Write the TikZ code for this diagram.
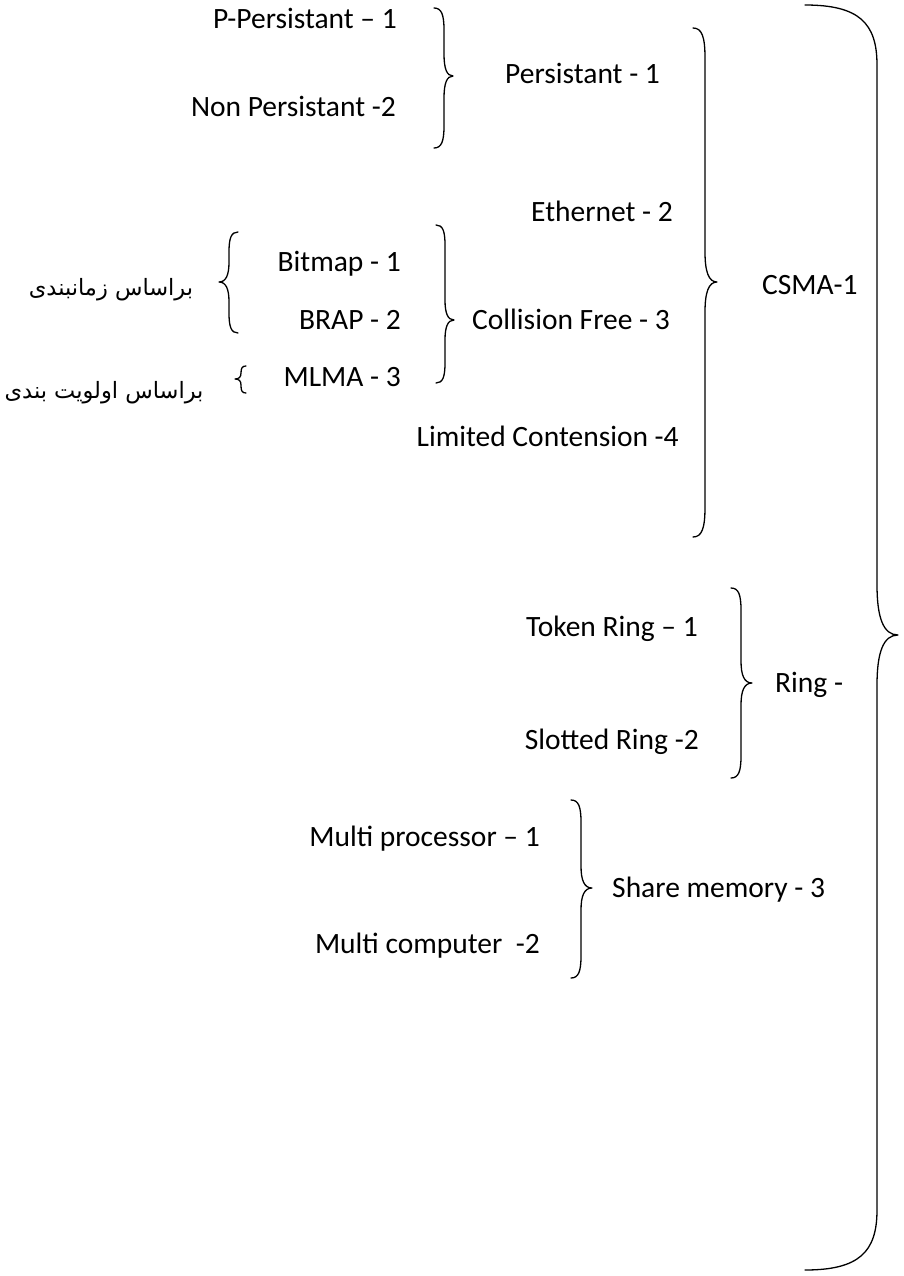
\documentclass[tikz,border=0pt]{standalone}
\usepackage{fontspec}
\setmainfont{Carlito}
\newfontfamily\arabicfont[Script=Arabic]{DejaVu Sans}
\TeXXeTstate=1
% #1 x of ends, #2 x of straight part, #3 x of tip, #4 top y, #5 tip y, #6 bottom y, #7 end curl length, #8 tip curl length
\newcommand{\mybrace}[8]{%
  \draw[bracestyle] (#1,#4) .. controls ({#1+0.75*(#2-#1)},#4) and (#2,{#4+0.3*(#7)}) .. (#2,{#4+(#7)})
    -- (#2,{#5-(#8)}) .. controls (#2,{#5-0.35*(#8)}) and ({#2+0.3*(#3-#2)},#5) .. (#3,#5)
    .. controls ({#2+0.3*(#3-#2)},#5) and (#2,{#5+0.35*(#8)}) .. (#2,{#5+(#8)})
    -- (#2,{#6-(#7)}) .. controls (#2,{#6-0.3*(#7)}) and ({#1+0.75*(#2-#1)},#6) .. (#1,#6);}
\begin{document}
\begin{tikzpicture}[x=1pt,y=-1pt,
  lbl/.style={anchor=base east, inner sep=0pt, font=\fontsize{29.5}{36}\selectfont},
  lblw/.style={anchor=base west, inner sep=0pt, font=\fontsize{29.5}{36}\selectfont},
  fa/.style={anchor=base, inner sep=0pt, font=\arabicfont\fontsize{22.5}{27}\selectfont},
  bracestyle/.style={line width=1.3pt, line join=round, line cap=round}]
\useasboundingbox (0,0) rectangle (904,1276);
% group: Persistant
\node[lbl] (pp) at (397,29) {P-Persistant – 1};
\node[lbl] (np) at (396,117) {Non Persistant -2};
\mybrace{434}{444}{453}{8}{76}{148}{22}{22}
\node[lblw] (pers) at (505,84) {Persistant - 1};
% CSMA group
\node[lbl] (eth) at (673,222) {Ethernet - 2};
\node[lbl] (bit) at (401,271) {Bitmap - 1};
\node[lbl] (brap) at (401,329) {BRAP - 2};
\node[lbl] (mlma) at (401,386) {MLMA - 3};
\mybrace{238}{229}{219}{232}{282}{333}{20}{20}
\mybrace{246}{241}{235}{366}{379}{393}{7}{6}
\node[fa] (zam) at (111,295) {\beginR براساس زمانبندی\endR};
\node[fa] (olv) at (104,398) {\beginR براساس اولویت بندی\endR};
\mybrace{436}{445}{454}{225}{320}{383}{20}{20}
\node[lblw] (cf) at (472,329) {Collision Free - 3};
\node[lbl] (lc) at (679,446) {Limited Contension -4};
\mybrace{693}{705}{717}{28}{282}{537}{30}{30}
\node[lblw] (csma) at (762,294) {CSMA-1};
% Ring group
\node[lbl] (tr) at (698,636) {Token Ring – 1};
\node[lbl] (sr) at (699,749) {Slotted Ring -2};
\mybrace{731}{741}{752}{588}{683}{778}{22}{22}
\node[lblw] (ring) at (775,692) {Ring -};
% Share memory group
\node[lbl] (mp) at (540,846) {Multi processor – 1};
\node[lbl] (mc) at (540,953) {Multi computer~ -2};
\mybrace{571}{581}{592}{800}{888}{978}{22}{22}
\node[lblw] (sm) at (612,897) {Share memory - 3};
% outer brace
\mybrace{805}{877}{898}{5}{635}{1270}{60}{50}
\end{tikzpicture}
\end{document}
